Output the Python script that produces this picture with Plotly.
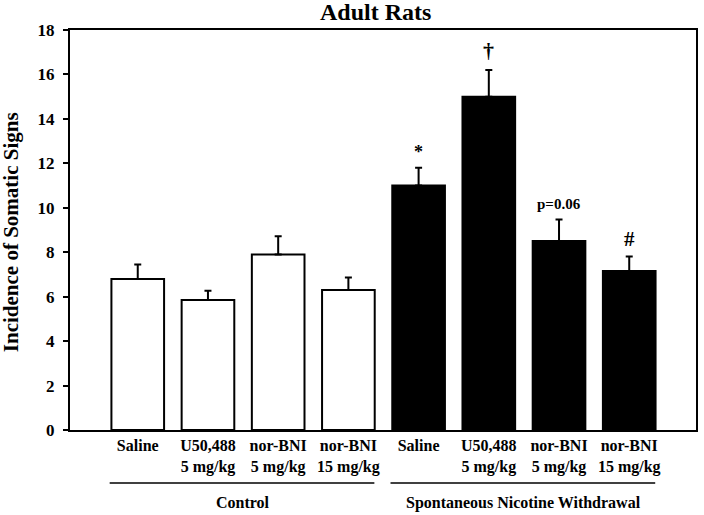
import plotly.graph_objects as go

# ---- data ----
categories = ["Saline", "U50,488<br>5 mg/kg", "nor-BNI<br>5 mg/kg", "nor-BNI<br>15 mg/kg",
              "Saline", "U50,488<br>5 mg/kg", "nor-BNI<br>5 mg/kg", "nor-BNI<br>15 mg/kg"]
control_means = [6.8, 5.85, 7.9, 6.3]
control_sem = [0.65, 0.42, 0.82, 0.56]
withdrawal_means = [11.0, 15.0, 8.5, 7.15]
withdrawal_sem = [0.8, 1.2, 0.97, 0.66]
withdrawal_marks = ["*", "†", "p=0.06", "#"]
groups = ["Control", "Spontaneous Nicotine Withdrawal"]
yticks = [0, 2, 4, 6, 8, 10, 12, 14, 16, 18]

FONT = "Liberation Serif, Times New Roman, serif"
ctrl_x = list(range(4))
wd_x = list(range(4, 8))

fig = go.Figure()
fig.add_trace(go.Bar(
    x=ctrl_x, y=control_means, width=0.75,
    marker=dict(color="white", line=dict(color="black", width=2)),
    error_y=dict(type="data", symmetric=False, array=control_sem,
                 arrayminus=[0] * 4, color="black", thickness=2, width=3.5),
    showlegend=False,
))
fig.add_trace(go.Bar(
    x=wd_x, y=withdrawal_means, width=0.75,
    marker=dict(color="black", line=dict(color="black", width=2)),
    error_y=dict(type="data", symmetric=False, array=withdrawal_sem,
                 arrayminus=[0] * 4, color="black", thickness=2, width=3.5),
    showlegend=False,
))

annotations = []
mark_sizes = {"*": 18, "†": 22, "p=0.06": 15, "#": 21}
mark_shift = {"*": 4, "†": 5, "p=0.06": 6, "#": 3}
for xi, m, s, mk in zip(wd_x, withdrawal_means, withdrawal_sem, withdrawal_marks):
    annotations.append(dict(
        x=xi, y=m + s, xref="x", yref="y", text=mk, showarrow=False,
        yanchor="bottom", yshift=mark_shift[mk],
        font=dict(family=FONT, size=mark_sizes[mk], color="black", weight="bold"),
    ))

# group labels and underline
group_members = [ctrl_x, wd_x]
shapes = []
for g, members in zip(groups, group_members):
    annotations.append(dict(
        x=(members[0] + members[-1]) / 2, y=-0.182, xref="x", yref="paper",
        text=g, showarrow=False, yanchor="middle",
        font=dict(family=FONT, size=16, color="black", weight="bold"),
    ))
    shapes.append(dict(
        type="line", xref="x", yref="paper",
        x0=members[0] - 0.4, x1=members[-1] + 0.37, y0=-0.1325, y1=-0.1325,
        line=dict(color="black", width=1.5),
    ))

# title
annotations.append(dict(
    x=0.488, y=1, xref="paper", yref="paper", text="Adult Rats",
    showarrow=False, yanchor="bottom", yshift=3,
    font=dict(family=FONT, size=24, color="black", weight="bold"),
))
# y-axis title
annotations.append(dict(
    x=-0.094, y=0.495, xref="paper", yref="paper", text="Incidence of Somatic Signs",
    showarrow=False, xanchor="center", yanchor="middle", textangle=-90,
    font=dict(family=FONT, size=21, color="black", weight="bold"),
))

fig.update_layout(
    width=704, height=515,
    margin=dict(l=70, r=6, t=30, b=85),
    paper_bgcolor="white", plot_bgcolor="white",
    font=dict(family=FONT, color="black"),
    bargap=0.25,
    annotations=annotations,
    shapes=shapes,
)
fig.update_xaxes(
    range=[-0.965, 7.951],
    tickvals=list(range(8)), ticktext=categories,
    ticks="", showgrid=False, zeroline=False,
    showline=True, linecolor="black", linewidth=2, mirror=True,
    tickfont=dict(family=FONT, size=16, color="black", weight="bold"),
)
fig.update_yaxes(
    range=[0, 18], tickvals=yticks,
    ticks="outside", ticklen=5, tickwidth=2, tickcolor="black",
    ticklabelstandoff=5,
    showgrid=False, zeroline=False,
    showline=True, linecolor="black", linewidth=2, mirror=True,
    tickfont=dict(family=FONT, size=17, color="black", weight="bold"),
)

fig.write_html(
    "out.html",
    config={"displayModeBar": False},
    post_script="document.body.style.margin='0';document.body.style.padding='0';",
)
